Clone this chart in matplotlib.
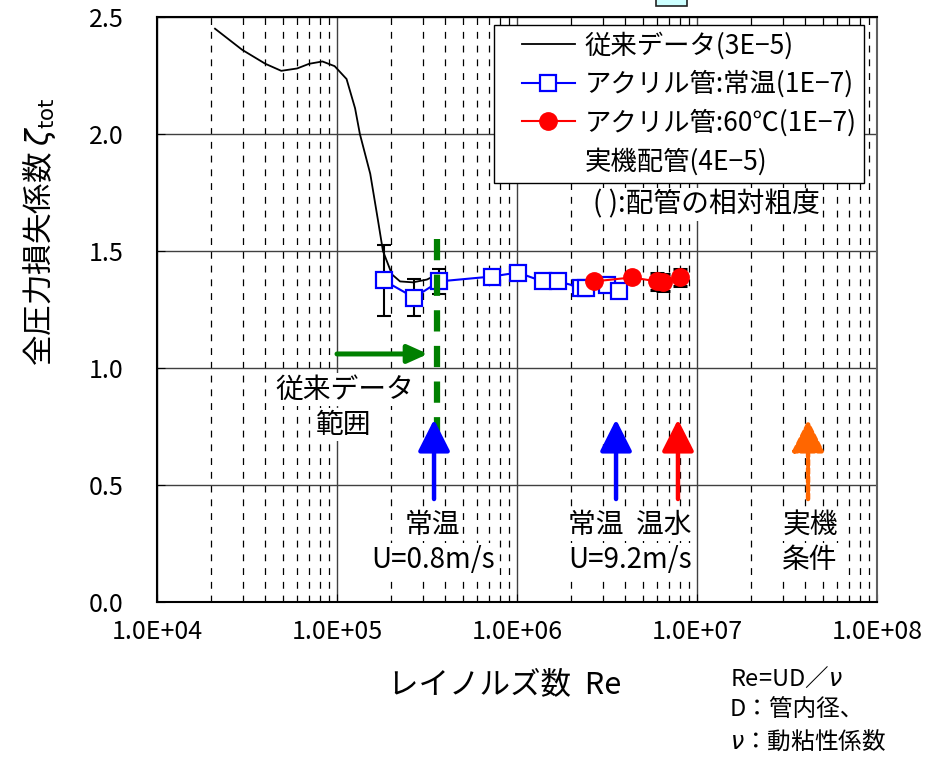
import numpy as np
import matplotlib
matplotlib.use('Agg')
import matplotlib.pyplot as plt
from matplotlib.lines import Line2D
from matplotlib.patches import Rectangle

plt.rcParams['font.family'] = ['Noto Sans CJK JP', 'DejaVu Sans']

# conventional data curve (roughness 3E-5)
conv_re = [2.1e4, 2.97e4, 4.0e4, 4.9e4, 6.0e4, 7.0e4, 8.3e4, 9.7e4, 1.13e5, 1.26e5,
           1.34e5, 1.53e5, 1.69e5, 1.80e5, 2.02e5, 2.24e5, 2.64e5, 3.16e5, 3.5e5]
conv_zeta = [2.45, 2.36, 2.30, 2.27, 2.28, 2.30, 2.31, 2.29, 2.235, 2.11,
             2.00, 1.83, 1.63, 1.50, 1.40, 1.37, 1.366, 1.378, 1.395]

# acrylic pipe, room temperature
acryl_re = [1.82e5, 2.68e5, 3.69e5, 7.26e5, 1.01e6, 1.39e6, 1.69e6, 2.27e6, 2.42e6, 3.16e6, 3.69e6]
acryl_zeta = [1.374, 1.301, 1.370, 1.391, 1.408, 1.370, 1.370, 1.344, 1.340, 1.353, 1.327]
acryl_err = [0.15, 0.08, 0.054, 0, 0, 0, 0, 0, 0, 0, 0]

# acrylic pipe, 60 degC water
hot_re = [2.68e6, 4.35e6, 6.0e6, 6.48e6, 8.05e6]
hot_zeta = [1.37, 1.387, 1.37, 1.366, 1.387]
hot_err = [0, 0, 0.035, 0.035, 0.035]

# range of the conventional data
range_start, range_end, range_y = 1e5, 3.2e5, 1.06
limit_re = 3.59e5
limit_top, limit_bottom = 1.55, 0.68

# test conditions (arrows)
cond_re = [3.46e5, 3.55e6, 7.84e6, 4.14e7]
cond_color = ['#0000FF', '#0000FF', '#FF0000', '#FF6600']
cond_style = ['-', '-', '-', (0, (1.2, 0.7))]
arrow_tail, arrow_tip = 0.44, 0.78

xticks = [1e4, 1e5, 1e6, 1e7, 1e8]
xtick_labels = ['1.0E+04', '1.0E+05', '1.0E+06', '1.0E+07', '1.0E+08']
yticks = [0.0, 0.5, 1.0, 1.5, 2.0, 2.5]

W, H = 933, 763
fig = plt.figure(figsize=(W / 100, H / 100), dpi=100)
ax = fig.add_axes([157 / W, 1 - 602 / H, 720 / W, 585 / H])

ax.set_xscale('log')
ax.set_xlim(1e4, 1e8)
ax.set_ylim(0, 2.5)
ax.set_xticks(xticks, xtick_labels)
ax.xaxis.set_minor_locator(matplotlib.ticker.LogLocator(base=10, subs=np.arange(2, 10)))
ax.xaxis.set_minor_formatter(matplotlib.ticker.NullFormatter())
ax.set_yticks(yticks, ['%.1f' % v for v in yticks])

ax.grid(which='major', axis='both', color='#404040', lw=1.0, ls='-', zorder=0)
ax.grid(which='minor', axis='x', color='black', lw=0.9, ls=(0, (5.5, 5.5)), zorder=0)
ax.set_axisbelow(True)

ax.tick_params(axis='x', which='both', direction='in', pad=12, labelsize=18)
ax.tick_params(axis='x', which='major', length=6)
ax.tick_params(axis='x', which='minor', length=4)
ax.tick_params(axis='y', direction='in', length=6, pad=24, labelsize=18)
for s in ax.spines.values():
    s.set_linewidth(1.5)
    s.set_color('black')
ax.spines['right'].set_color('#606060')

# data
l_conv, = ax.plot(conv_re, conv_zeta, color='black', lw=1.3, zorder=2)
ax.errorbar(acryl_re, acryl_zeta, yerr=acryl_err, fmt='none', ecolor='black',
            elinewidth=1.5, capsize=5, capthick=1.5, zorder=2.5)
ax.errorbar(hot_re, hot_zeta, yerr=hot_err, fmt='none', ecolor='black',
            elinewidth=1.5, capsize=5, capthick=2.2, zorder=2.5)
l_acryl, = ax.plot(acryl_re, acryl_zeta, color='#0000FF', lw=1.5, marker='s', ms=11,
                   mfc='white', mec='#0000FF', mew=1.6, zorder=3)
l_hot, = ax.plot(hot_re, hot_zeta, color='#FF0000', lw=1.5, marker='o', ms=12.5,
                 mfc='#FF0000', mec='#FF0000', zorder=4)

# conventional data range
ax.annotate('', xy=(range_end, range_y), xytext=(range_start, range_y),
            arrowprops=dict(arrowstyle='-|>,head_length=0.6,head_width=0.27', mutation_scale=20,
                            lw=3.6, color='#008000', shrinkA=0, shrinkB=0), zorder=5)
ax.plot([limit_re, limit_re], [limit_top, limit_bottom], color='#008000', lw=4.5,
        dashes=(3.4, 2.3), solid_capstyle='butt', zorder=5)

for x, c, ls in zip(cond_re, cond_color, cond_style):
    ax.annotate('', xy=(x, arrow_tip), xytext=(x, arrow_tail),
                arrowprops=dict(arrowstyle='-|>,head_length=0.97,head_width=0.49', mutation_scale=20,
                                lw=3.2, color=c, linestyle=ls, shrinkA=0, shrinkB=0), zorder=6)

box = dict(fc='white', ec='none', pad=1)
txt = dict(fontsize=20, ha='center', va='center', zorder=4, bbox=box)
ax.text(1.11e5, 0.908, '従来データ', **txt)
ax.text(1.08e5, 0.758, '範囲', **txt)
ax.text(3.4e5, 0.33, '常温', **txt)
ax.text(3.4e5, 0.18, 'U=0.8m/s', **txt)
ax.text(1.92e6, 0.33, '常温  温水', fontsize=20, ha='left', va='center', zorder=4, bbox=box)
ax.text(1.92e6, 0.18, 'U=9.2m/s', fontsize=20, ha='left', va='center', zorder=4, bbox=box)
ax.text(4.25e7, 0.33, '実機', **txt)
ax.text(4.25e7, 0.18, '条件', **txt)

# legend with its own frame
ax.add_patch(Rectangle((0.468, 0.716), 0.514, 0.270, transform=ax.transAxes,
                       fc='white', ec='black', lw=1.0, zorder=8))
h_real = Line2D([], [], color='none')
leg = ax.legend([l_conv, l_acryl, l_hot, h_real],
                ['従来データ(3E−5)', 'アクリル管:常温(1E−7)', 'アクリル管:60℃(1E−7)', '実機配管(4E−5)'],
                loc='upper left', bbox_to_anchor=(522 / W, 1 - 32 / H), bbox_transform=fig.transFigure,
                frameon=False, fontsize=19, handlelength=2.0, handletextpad=0.38,
                borderpad=0, borderaxespad=0, labelspacing=0.42)
leg.set_zorder(9)
ax.text(0.7625, 0.679, '( ):配管の相対粗度', transform=ax.transAxes, fontsize=20,
        ha='center', va='center', zorder=7, bbox=box)

# axis titles and notes
fig.text(40 / W, 1 - 232 / H, '全圧力損失係数 $\\zeta_{\\rm tot}$', rotation=90,
         fontsize=22, ha='center', va='center')
fig.text(505 / W, 1 - 685 / H, 'レイノルズ数  Re', fontsize=22, ha='center', va='center')
fig.text(730 / W, 1 - 678 / H, 'Re=UD／$\\nu$', fontsize=17, ha='left', va='center')
fig.text(730 / W, 1 - 710 / H, 'D：管内径、', fontsize=17, ha='left', va='center')
fig.text(730 / W, 1 - 741 / H, '$\\nu$：動粘性係数', fontsize=17, ha='left', va='center')

fig.add_artist(Rectangle((656 / W, 1 - 6 / H), 31 / W, 0.02, transform=fig.transFigure,
                         fc='#CCFFFF', ec='#222222', lw=1.2, clip_on=False))

fig.savefig('out.png', dpi=100)
